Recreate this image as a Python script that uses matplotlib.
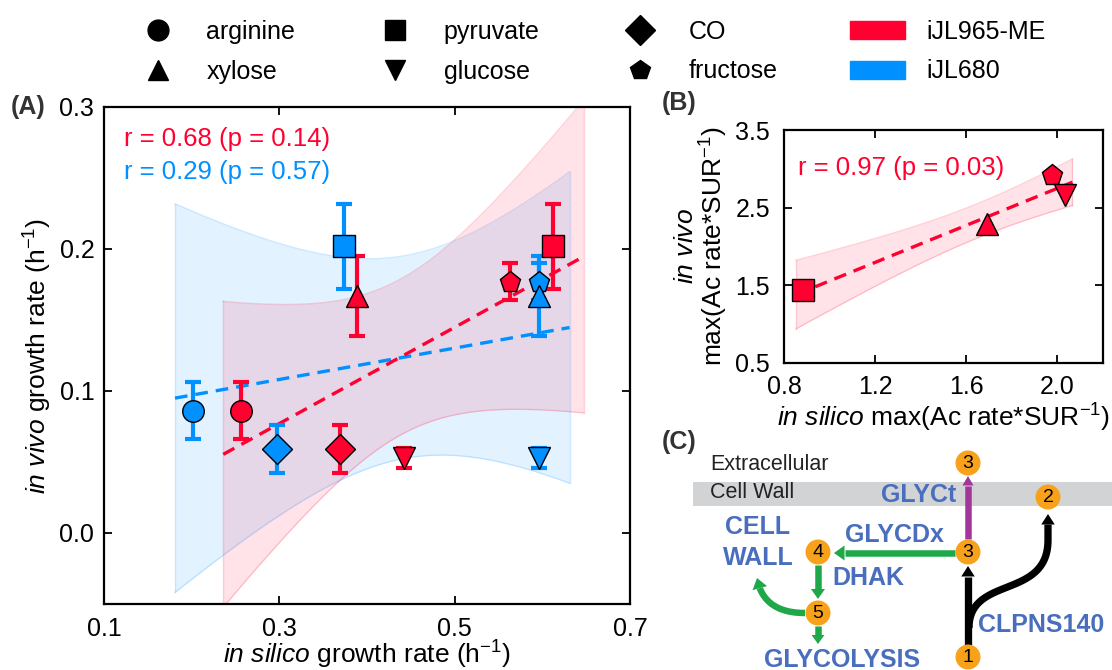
import numpy as np
import matplotlib
matplotlib.use("Agg")
import matplotlib.pyplot as plt
from matplotlib.lines import Line2D
from matplotlib.patches import Patch, Circle, Rectangle, Polygon

plt.rcParams['font.family'] = ['Liberation Sans', 'DejaVu Sans']
plt.rcParams['mathtext.fontset'] = 'custom'
plt.rcParams['mathtext.rm'] = 'Liberation Sans'
plt.rcParams['mathtext.it'] = 'Liberation Sans:italic'
plt.rcParams['mathtext.bf'] = 'Liberation Sans:bold'

RED = '#FF0030'
BLUE = '#0090FF'
PATH_BLUE = '#4A6EBE'
ORANGE = '#F8A21C'
GREEN = '#1FA84A'
MAGENTA = '#A3369A'

# ---------------- data ----------------
substrates = ['arginine', 'fructose', 'xylose', 'pyruvate', 'glucose', 'CO']
substrate_markers = {'arginine': 'o', 'xylose': '^', 'pyruvate': 's',
                     'glucose': 'v', 'CO': 'D', 'fructose': 'p'}

# growth rates (h^-1)
me_insilico_growth = [0.256, 0.563, 0.389, 0.612, 0.442, 0.369]     # iJL965-ME
m_insilico_growth = [0.202, 0.5965, 0.5965, 0.374, 0.5965, 0.297]   # iJL680
invivo_growth = [0.086, 0.177, 0.167, 0.202, 0.053, 0.059]
invivo_growth_err = [0.020, 0.013, 0.028, 0.030, 0.007, 0.017]
me_fit_span = (0.236, 0.647)
m_fit_span = (0.181, 0.631)
me_stats = "r = 0.68 (p = 0.14)"
m_stats = "r = 0.29 (p = 0.57)"

# max(acetate rate * SUR^-1)
acetate_substrates = ['pyruvate', 'xylose', 'fructose', 'glucose']
acetate_insilico = [0.882, 1.692, 1.978, 2.032]
acetate_invivo = [1.434, 2.29, 2.92, 2.665]
acetate_fit_span = (0.853, 2.066)
acetate_stats = "r = 0.97 (p = 0.03)"

# multiplier of the standard error of the fitted mean used for the shaded band
BAND_CRIT = 2.5


def linear_fit(x, y):
    slope, icpt = np.polyfit(x, y, 1)
    return slope, icpt


def confidence_band(x, y, grid, crit=BAND_CRIT):
    x = np.asarray(x, float)
    y = np.asarray(y, float)
    n = len(x)
    slope, icpt = linear_fit(x, y)
    resid = y - (icpt + slope * x)
    s = np.sqrt((resid ** 2).sum() / (n - 2))
    sxx = ((x - x.mean()) ** 2).sum()
    se = s * np.sqrt(1.0 / n + (grid - x.mean()) ** 2 / sxx)
    yhat = icpt + slope * grid
    return yhat - crit * se, yhat + crit * se


def draw_fit(ax, x, y, span, color):
    grid = np.linspace(span[0], span[1], 150)
    lo, hi = confidence_band(x, y, grid)
    ax.fill_between(grid, lo, hi, color=color, alpha=0.11, lw=0, zorder=1)
    ax.plot(grid, lo, color=color, alpha=0.18, lw=1, zorder=1)
    ax.plot(grid, hi, color=color, alpha=0.18, lw=1, zorder=1)
    ax.plot([span[0], span[0]], [lo[0], hi[0]], color=color, alpha=0.18, lw=1, zorder=1)
    ax.plot([span[1], span[1]], [lo[-1], hi[-1]], color=color, alpha=0.18, lw=1, zorder=1)
    slope, icpt = linear_fit(x, y)
    ax.plot(grid, icpt + slope * grid, color=color, lw=2.4,
            linestyle=(0, (3.8, 2.4)), zorder=2)


def style_axes(ax):
    for s in ax.spines.values():
        s.set_linewidth(1.6)
    ax.tick_params(direction='in', length=6, width=1.3, labelsize=18,
                   top=True, right=True)
    ax.tick_params(axis='x', pad=9)
    ax.tick_params(axis='y', pad=7)


W, H = 1112, 670
fig = plt.figure(figsize=(W / 100, H / 100), dpi=100)


def px_axes(l, t, r, b):
    return fig.add_axes([l / W, 1 - b / H, (r - l) / W, (b - t) / H])


# ---------------- panel A ----------------
axA = px_axes(104, 107, 630, 604)
draw_fit(axA, m_insilico_growth, invivo_growth, m_fit_span, BLUE)
draw_fit(axA, me_insilico_growth, invivo_growth, me_fit_span, RED)

for xs, color in [(m_insilico_growth, BLUE), (me_insilico_growth, RED)]:
    for name, xv, yv, ev in zip(substrates, xs, invivo_growth, invivo_growth_err):
        axA.errorbar(xv, yv, yerr=ev, fmt='none', ecolor=color, elinewidth=3,
                     capsize=5.5, capthick=3, zorder=3)
        axA.plot(xv, yv, marker=substrate_markers[name], markersize=15.5,
                 markerfacecolor=color, markeredgecolor='black', markeredgewidth=1,
                 linestyle='none', zorder=4)

axA.set_xlim(0.1, 0.7)
axA.set_ylim(-0.05, 0.3)
axA.set_xticks([0.1, 0.3, 0.5, 0.7])
axA.set_yticks([0.0, 0.1, 0.2, 0.3])
axA.set_xticklabels(['0.1', '0.3', '0.5', '0.7'])
axA.set_yticklabels(['0.0', '0.1', '0.2', '0.3'])
style_axes(axA)
axA.set_xlabel(r'$\mathit{in\ silico}$ growth rate (h$^{-1}$)', fontsize=19, labelpad=-1)
axA.set_ylabel(r'$\mathit{in\ vivo}$ growth rate (h$^{-1}$)', fontsize=19, labelpad=4)
axA.text(0.038, 0.935, me_stats, color=RED, fontsize=18.5, transform=axA.transAxes,
         va='center', ha='left')
axA.text(0.038, 0.870, m_stats, color=BLUE, fontsize=18.5, transform=axA.transAxes,
         va='center', ha='left')

# ---------------- panel B ----------------
axB = px_axes(784, 130, 1103, 363)
draw_fit(axB, acetate_insilico, acetate_invivo, acetate_fit_span, RED)
for name, xv, yv in zip(acetate_substrates, acetate_insilico, acetate_invivo):
    axB.plot(xv, yv, marker=substrate_markers[name], markersize=15.5,
             markerfacecolor=RED, markeredgecolor='black', markeredgewidth=1,
             linestyle='none', zorder=4)
axB.set_xlim(0.8, 2.2)
axB.set_ylim(0.5, 3.5)
axB.set_xticks([0.8, 1.2, 1.6, 2.0])
axB.set_yticks([0.5, 1.5, 2.5, 3.5])
axB.set_xticklabels(['0.8', '1.2', '1.6', '2.0'])
axB.set_yticklabels(['0.5', '1.5', '2.5', '3.5'])
style_axes(axB)
axB.tick_params(axis='y', pad=10)
axB.set_xlabel(r'$\mathit{in\ silico}$ max(Ac rate*SUR$^{-1}$)', fontsize=19, labelpad=2)
axB.set_ylabel('$\\mathit{in\\ vivo}$\nmax(Ac rate*SUR$^{-1}$)', fontsize=19,
               labelpad=4, linespacing=1.0)
axB.text(0.045, 0.835, acetate_stats, color=RED, fontsize=18.5,
         transform=axB.transAxes, va='center', ha='left')

# ---------------- legend ----------------
legend_order = ['arginine', 'xylose', 'pyruvate', 'glucose', 'CO', 'fructose']
handles = [Line2D([], [], marker=substrate_markers[s], color='black', linestyle='none',
                  markersize=15) for s in legend_order]
handles += [Patch(facecolor=RED, edgecolor=RED), Patch(facecolor=BLUE, edgecolor=BLUE)]
labels = legend_order + ['iJL965-ME', 'iJL680']
fig.legend(handles, labels, ncol=4, loc='upper left',
           bbox_to_anchor=(130 / W, 1 - 20 / H), frameon=False, fontsize=18,
           handlelength=2.2, handleheight=0.75, handletextpad=0.85,
           columnspacing=2.9, labelspacing=0.62, borderaxespad=0, borderpad=0)

# panel tags
fig.text(11 / W, 1 - 107 / H, '(A)', fontsize=18, fontweight='bold',
         color='#333333', va='center', ha='left')
fig.text(662 / W, 1 - 103 / H, '(B)', fontsize=18, fontweight='bold',
         color='#333333', va='center', ha='left')
fig.text(662 / W, 1 - 442 / H, '(C)', fontsize=18, fontweight='bold',
         color='#333333', va='center', ha='left')

# ---------------- panel C: glycerol pathway sketch ----------------
axC = fig.add_axes([660 / W, 0, (W - 660) / W, 240 / H])
axC.set_xlim(660, W)
axC.set_ylim(H, 430)
axC.axis('off')

axC.add_patch(Rectangle((693, 482), W - 693, 23.5, facecolor='#D2D3D5',
                        edgecolor='none', zorder=0))
axC.text(710, 465, 'Extracellular', fontsize=15.5, va='center', ha='left', color='#222222')
axC.text(710, 493, 'Cell Wall', fontsize=15.5, va='center', ha='left', color='#222222')


def arrow_line(pts, color, shaft, head_w, head_l):
    pts = np.asarray(pts, float)
    tip = pts[-1]
    dist = np.hypot(*(pts - tip).T)
    body = pts[dist > head_l]
    d = tip - body[-1]
    d /= np.hypot(*d)
    base = tip - d * head_l
    body = np.vstack([body, base])
    axC.plot(body[:, 0], body[:, 1], color=color, lw=shaft * 0.72,
             solid_capstyle='butt', solid_joinstyle='round', zorder=2)
    nrm = np.array([-d[1], d[0]])
    axC.add_patch(Polygon([tip, base + nrm * head_w / 2, base - nrm * head_w / 2],
                          closed=True, facecolor=color, edgecolor='none', zorder=2))


def bezier(p, n=80):
    p = np.asarray(p, float)
    t = np.linspace(0, 1, n)[:, None]
    if len(p) == 3:
        return (1 - t) ** 2 * p[0] + 2 * (1 - t) * t * p[1] + t ** 2 * p[2]
    return ((1 - t) ** 3 * p[0] + 3 * (1 - t) ** 2 * t * p[1]
            + 3 * (1 - t) * t ** 2 * p[2] + t ** 3 * p[3])


# transport and synthesis arrows
arrow_line([(968, 539), (968, 476)], MAGENTA, 6.5, 11, 9.5)
arrow_line([(968, 645), (968, 566)], 'black', 7.3, 13.5, 10.5)
curve = np.vstack([bezier([(969, 628), (969, 575), (1048, 600), (1048, 540)]),
                   [(1048, 514)]])
arrow_line(curve, 'black', 7.3, 13.5, 10.5)
# glycerol utilisation arrows
arrow_line([(955, 553), (834, 553)], GREEN, 6.5, 15, 10.5)
arrow_line([(818, 565), (818, 599)], GREEN, 6.5, 14, 10)
arrow_line(bezier([(805, 613), (763, 613), (757, 578)]), GREEN, 6.5, 15, 10.5)
arrow_line([(818, 626), (818, 644)], GREEN, 6.5, 13, 9)

for num, (cx, cy) in [('3', (968, 463)), ('2', (1048, 497)), ('3', (968, 552)),
                      ('4', (818, 552)), ('5', (818, 613)), ('1', (968, 657))]:
    axC.add_patch(Circle((cx, cy), 12.5, facecolor=ORANGE, edgecolor='none', zorder=3))
    axC.text(cx, cy + 0.5, num, fontsize=14, ha='center', va='center', zorder=4)

for label, (tx, ty) in [('GLYCt', (919, 495)), ('GLYCDx', (894, 535)),
                        ('CELL', (758, 527)), ('WALL', (758, 558)),
                        ('DHAK', (868, 578)), ('GLYCOLYSIS', (842, 660)),
                        ('CLPNS140', (1041, 625))]:
    axC.text(tx, ty, label, fontsize=18, fontweight='bold', color=PATH_BLUE,
             ha='center', va='center', zorder=4)

fig.savefig('out.png', dpi=100)
